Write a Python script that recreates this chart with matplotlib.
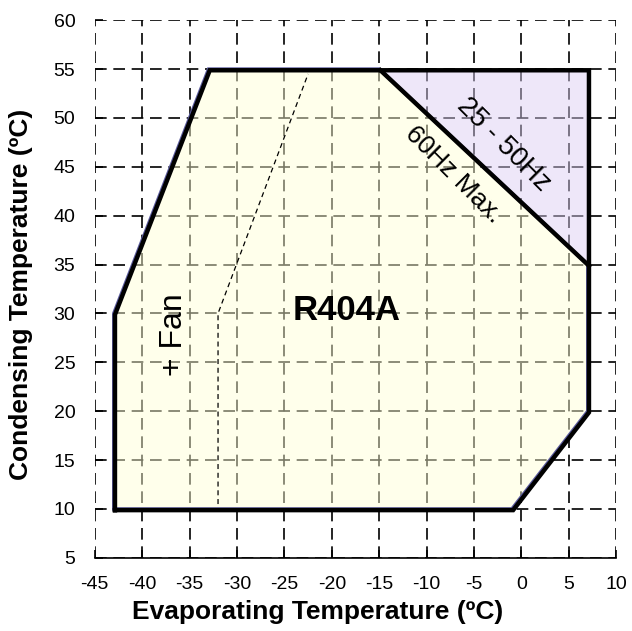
import matplotlib.pyplot as plt
from matplotlib import transforms
from matplotlib.patches import Polygon

plt.rcParams['font.family'] = ['Liberation Sans', 'DejaVu Sans']
plt.rcParams['axes.unicode_minus'] = False

# envelope (evaporating, condensing) in degC
env_x = [-43, -43, -33, -15, 7, 7, -1]
env_y = [10, 30, 55, 55, 35, 20, 10]
# 25-50Hz only zone
vfd_x = [-15, 7, 7]
vfd_y = [55, 55, 35]
# outer boundary
outer_x = [-43, -43, -33, 7, 7, -1, -43]
outer_y = [10, 30, 55, 55, 20, 10, 10]
# +Fan limit
fan_x = [-32, -32, -22.5]
fan_y = [10.5, 30, 54.5]

xticks = list(range(-45, 11, 5))
yticks = list(range(5, 61, 5))

fig = plt.figure(figsize=(6.32, 6.31), dpi=100)
ax = fig.add_axes([0.150, 0.116, 0.825, 0.852])

ax.set_xlim(-45, 10)
ax.set_ylim(5, 60)
ax.set_xticks(xticks)
ax.set_yticks(yticks)
ax.set_axisbelow(True)
ax.grid(True, color='black', linestyle=(0, (7, 4)), linewidth=1.2)

ax.add_patch(Polygon(list(zip(env_x, env_y)), closed=True,
                     facecolor=(1, 1, 213 / 255), alpha=0.47, edgecolor='none', zorder=2))
ax.add_patch(Polygon(list(zip(vfd_x, vfd_y)), closed=True,
                     facecolor=(219 / 255, 206 / 255, 244 / 255), alpha=0.47, edgecolor='none', zorder=2))
ax.add_patch(Polygon(list(zip(env_x, env_y)), closed=True,
                     facecolor='none', edgecolor='#5a5a9c', linewidth=2.5, zorder=3))

shift = transforms.offset_copy(ax.transData, fig=fig, x=1.2, y=-1.2, units='dots')
ax.plot(outer_x, outer_y, color='black', linewidth=3.2, transform=shift,
        solid_joinstyle='miter', zorder=4)
ax.plot([vfd_x[0], vfd_x[2]], [vfd_y[0], vfd_y[2]], color='black', linewidth=3.2,
        transform=shift, zorder=4)
ax.plot(fan_x, fan_y, color='black', linewidth=0.9, linestyle=(0, (4, 3)), zorder=4)

ax.text(-18.4, 30.3, 'R404A', fontsize=25, fontweight='bold', ha='center', va='center', zorder=5)
ax.text(-36.6, 27.8, '+ Fan', fontsize=23, rotation=90, ha='center', va='center', zorder=5)
ax.text(-7.2, 44.2, '60Hz Max.', fontsize=19, rotation=-45, ha='center', va='center', zorder=5)
ax.text(-1.9, 47.3, '25 - 50Hz', fontsize=20, rotation=-45, ha='center', va='center', zorder=5)

for s in ['top', 'right', 'left']:
    ax.spines[s].set_visible(False)
ax.spines['bottom'].set_linewidth(1.2)
ax.tick_params(axis='both', direction='in', length=6, width=1.2, labelsize=14)
ax.tick_params(axis='x', pad=13)
ax.tick_params(axis='y', pad=14)

ax.set_xlabel('Evaporating Temperature (ºC)', fontsize=19, fontweight='bold')
ax.set_ylabel('Condensing Temperature (ºC)', fontsize=19, fontweight='bold')
ax.xaxis.set_label_coords(0.428, -0.078)
ax.yaxis.set_label_coords(-0.119, 0.49)

fig.savefig('out.png', dpi=100)
